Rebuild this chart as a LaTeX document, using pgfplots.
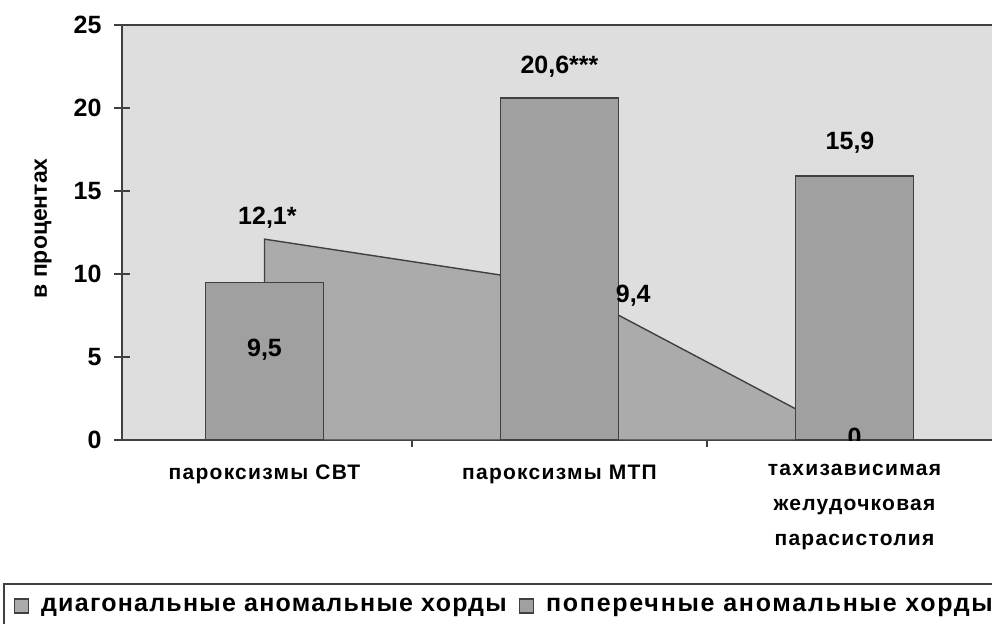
\documentclass[border=0pt]{standalone}
\usepackage{pgfplots}
\pgfplotsset{compat=1.18}
\usepackage{fontspec}
\setmainfont{Liberation Sans}
\definecolor{bggray}{HTML}{DEDEDE}
\definecolor{bargray}{HTML}{A0A0A0}
\definecolor{areagray}{HTML}{ABABAB}
\definecolor{linegray}{HTML}{404040}
\begin{document}
\begin{tikzpicture}
\useasboundingbox (-61pt,-91.5pt) rectangle (435pt,220pt);
\begin{axis}[
  at={(0,0)}, anchor=south west,
  width=440pt, height=207.5pt, scale only axis,
  xmin=-0.483, xmax=2.5, ymin=0, ymax=25,
  axis background/.style={fill=bggray},
  axis line style={linegray, line width=0.8pt},
  tick pos=left,
  ytick={0,5,...,25}, tick align=center, major tick length=7.5pt,
  tick style={linegray, line width=0.8pt},
  xtick={0,1,2}, xticklabels={{пароксизмы СВТ},{пароксизмы МТП},{тахизависимая\\желудочковая\\парасистолия}},
  minor xtick={0.5,1.5}, minor tick length=7pt,
  x tick style={draw=none},
  minor x tick style={draw=linegray},
  /pgf/number format/assume math mode=true,
  yticklabel style={font=\bfseries\fontsize{12.5}{14}\selectfont, xshift=-3pt},
  xticklabel style={font=\bfseries\fontsize{10.5}{17.5}\selectfont\addfontfeature{LetterSpace=6}, align=center, yshift=-5pt},
  ylabel={в процентах},
  ylabel style={font=\bfseries\fontsize{11.5}{14}\selectfont, at={(axis description cs:-0.0898,0.51)}, anchor=center},
  legend columns=2,
  legend style={at={(axis description cs:-0.1352,-0.3446)}, anchor=north west,
    draw=linegray, line width=0.8pt, inner xsep=5pt, inner ysep=5pt,
    font=\bfseries\fontsize{12.5}{14}\selectfont\addfontfeature{LetterSpace=5},
    /tikz/every even column/.append style={column sep=4pt}},
  legend image code/.code={\draw[#1, line width=0.6pt] (0pt,-3.5pt) rectangle (7pt,3.5pt); \path (11pt,0pt);},
]
\addplot[fill=areagray, draw=linegray, line width=0.7pt] coordinates {(0,12.1) (1,9.4) (2,0)} \closedcycle;
\addlegendentry{диагональные аномальные хорды}
\addplot[ybar, bar width=0.4, fill=bargray, draw=linegray, line width=0.8pt] coordinates {(0,9.5) (1,20.6) (2,15.9)};
\addlegendentry{\addfontfeature{LetterSpace=7}поперечные аномальные хорды\rule{45pt}{0pt}}
\begin{scope}[every node/.style={font=\bfseries\fontsize{12.5}{14}\selectfont}]
\node at (axis cs:0.01,13.4) {12,1*};
\node at (axis cs:0,5.42) {9,5};
\node at (axis cs:1,22.47) {20,6***};
\node at (axis cs:1.985,17.9) {15,9};
\node at (axis cs:1.25,8.67) {9,4};
\node at (axis cs:2,0.18) {0};
\end{scope}
\end{axis}
\end{tikzpicture}
\end{document}
